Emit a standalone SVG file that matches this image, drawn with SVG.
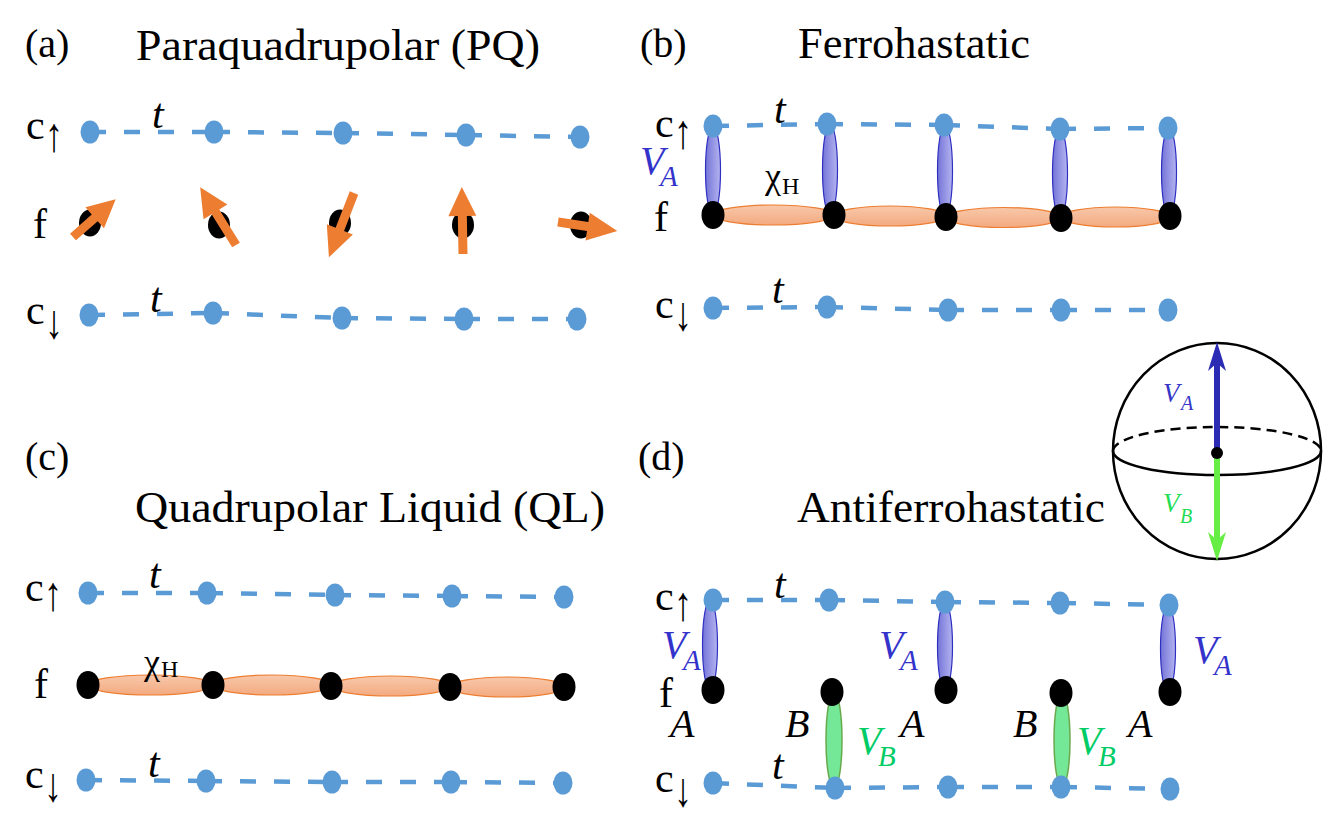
<svg xmlns="http://www.w3.org/2000/svg" xmlns:xlink="http://www.w3.org/1999/xlink" width="1336" height="817" viewBox="0 0 1336 817">
<defs>
<style>
text{font-family:"Liberation Serif","Times New Roman",serif;fill:#000}
.title{font-size:45px}
.plab{font-size:40px}
.lab{font-size:42px}
.arr{font-size:48px;fill:#000}
.t{font-size:42px;font-style:italic}
.chi{font-size:36px}
.chisub{font-size:24px}
.V{font-size:40px;font-style:italic;fill:#3333CC}
.Vs{font-size:29px;font-style:italic;fill:#3333CC}
.G{font-size:40px;font-style:italic;fill:#00CC66}
.Gs{font-size:29px;font-style:italic;fill:#00CC66}
.AB{font-size:40px;font-style:italic}
.hop{stroke:#5B9BD5;stroke-width:4.5;stroke-dasharray:16 18;fill:none}
.cdot{fill:#5B9BD5}
.fdot{fill:#000}
.ob{fill:url(#og);stroke:#ED7D31;stroke-width:1.2}
.bb{fill:url(#bg);stroke:#2F2FC0;stroke-width:1.2}
.gb{fill:#74E896;stroke:#6AA84F;stroke-width:1.5}
.spin{fill:#ED7D31}
</style>
<linearGradient id="og" x1="0" y1="0" x2="0" y2="1"><stop offset="0" stop-color="#F8C8AA"/><stop offset="1" stop-color="#F3AA80"/></linearGradient>
<linearGradient id="bg" x1="0" y1="0" x2="1" y2="0"><stop offset="0" stop-color="#7474D8"/><stop offset="1" stop-color="#B4B4F0"/></linearGradient>
<ellipse id="cd" cx="0" cy="0" rx="9.5" ry="11.5" class="cdot"/>
<ellipse id="fd" cx="0" cy="0" rx="11.5" ry="14" class="fdot"/>
</defs>
<rect width="1336" height="817" fill="#fff"/>

<!-- connectors: hopping lines -->
<g id="connectors">
<!-- (a) -->
<polyline class="hop" points="90,132 214,132"/><polyline class="hop" points="214,132 343,133"/><polyline class="hop" points="343,133 466,135"/><polyline class="hop" points="466,135 580,137"/>
<polyline class="hop" points="89,315 213,313"/><polyline class="hop" points="213,313 342,318"/><polyline class="hop" points="342,318 464,319"/><polyline class="hop" points="464,319 577,319"/>
<!-- (b) -->
<polyline class="hop" points="713,126 827,124"/><polyline class="hop" points="827,124 944,125"/><polyline class="hop" points="944,125 1060,129"/><polyline class="hop" points="1060,129 1168,128"/>
<polyline class="hop" points="713,308 827,307"/><polyline class="hop" points="827,307 948,310"/><polyline class="hop" points="948,310 1061,310"/><polyline class="hop" points="1061,310 1168,310"/>
<!-- (c) -->
<polyline class="hop" points="88,593 207,593"/><polyline class="hop" points="207,593 335,595"/><polyline class="hop" points="335,595 452,596"/><polyline class="hop" points="452,596 564,597"/>
<polyline class="hop" points="86,780 206,781"/><polyline class="hop" points="206,781 332,782"/><polyline class="hop" points="332,782 451,782"/><polyline class="hop" points="451,782 563,783"/>
<!-- (d) -->
<polyline class="hop" points="713,600 829,600"/><polyline class="hop" points="829,600 945,602"/><polyline class="hop" points="945,602 1060,603"/><polyline class="hop" points="1060,603 1169,605"/>
<polyline class="hop" points="713,783 835,788"/><polyline class="hop" points="835,788 948,787"/><polyline class="hop" points="948,787 1061,787"/><polyline class="hop" points="1061,787 1170,789"/>
</g>

<!-- bonds -->
<g id="bonds">
<!-- (b) hybridization -->
<ellipse class="bb" cx="713" cy="170.5" rx="7.5" ry="44.5"/>
<ellipse class="bb" cx="830" cy="169.5" rx="7.5" ry="45.5"/>
<ellipse class="bb" cx="945" cy="171" rx="7.5" ry="46"/>
<ellipse class="bb" cx="1060" cy="173.5" rx="7.5" ry="44.5"/>
<ellipse class="bb" cx="1169" cy="172" rx="7.5" ry="44"/>
<ellipse class="ob" cx="773.5" cy="215" rx="60" ry="10"/>
<ellipse class="ob" cx="890" cy="216" rx="56" ry="10"/>
<ellipse class="ob" cx="1003.5" cy="217.5" rx="57" ry="10"/>
<ellipse class="ob" cx="1115.5" cy="217" rx="54" ry="10"/>
<!-- (c) -->
<ellipse class="ob" cx="150.5" cy="685" rx="62" ry="10"/>
<ellipse class="ob" cx="272" cy="685" rx="59" ry="10"/>
<ellipse class="ob" cx="390.5" cy="686" rx="59" ry="10"/>
<ellipse class="ob" cx="507" cy="687" rx="57" ry="10"/>
<!-- (d) -->
<ellipse class="bb" cx="710" cy="645" rx="7.5" ry="45"/>
<ellipse class="bb" cx="945" cy="646" rx="7.5" ry="44"/>
<ellipse class="bb" cx="1168" cy="648.5" rx="7.5" ry="43.5"/>
<ellipse class="gb" cx="834" cy="740" rx="8" ry="48"/>
<ellipse class="gb" cx="1062" cy="740" rx="8" ry="47"/>
</g>

<!-- nodes panel (a) -->
<g id="a-nodes">
<g id="a-cu1"><use href="#cd" x="90" y="132"/></g><g id="a-cu2"><use href="#cd" x="214" y="132"/></g><g id="a-cu3"><use href="#cd" x="343" y="133"/></g><g id="a-cu4"><use href="#cd" x="466" y="135"/></g><g id="a-cu5"><use href="#cd" x="580" y="137"/></g>
<g id="a-f1"><ellipse cx="90" cy="223" rx="11" ry="13.5" class="fdot"/></g>
<g id="a-f2"><ellipse cx="219" cy="225" rx="11" ry="13.5" class="fdot"/></g>
<g id="a-f3"><ellipse cx="340" cy="223" rx="11" ry="13.5" class="fdot"/></g>
<g id="a-f4"><ellipse cx="463" cy="225" rx="11" ry="13.5" class="fdot"/></g>
<g id="a-f5"><ellipse cx="581" cy="225" rx="11" ry="13.5" class="fdot"/></g>
<g id="a-cd1"><use href="#cd" x="89" y="315"/></g><g id="a-cd2"><use href="#cd" x="213" y="313"/></g><g id="a-cd3"><use href="#cd" x="342" y="318"/></g><g id="a-cd4"><use href="#cd" x="464" y="319"/></g><g id="a-cd5"><use href="#cd" x="577" y="319"/></g>
<!-- spins -->
<polygon class="spin" transform="translate(73,237) rotate(-41.5)" points="0,-4.5 29,-4.5 29,-14 57,0 29,14 29,4.5 0,4.5"/>
<polygon class="spin" transform="translate(236,245) rotate(-121.8)" points="0,-4.5 39,-4.5 39,-14 68,0 39,14 39,4.5 0,4.5"/>
<polygon class="spin" transform="translate(354,193) rotate(111.3)" points="0,-4.5 39,-4.5 39,-14 69,0 39,14 39,4.5 0,4.5"/>
<polygon class="spin" transform="translate(463,254) rotate(-91)" points="0,-4.5 38,-4.5 38,-14 67,0 38,14 38,4.5 0,4.5"/>
<polygon class="spin" transform="translate(558,222) rotate(8.7)" points="0,-4.5 30,-4.5 30,-14 60,0 30,14 30,4.5 0,4.5"/>
</g>

<!-- nodes panel (b) -->
<g id="b-nodes">
<g id="b-cu1"><use href="#cd" x="713" y="126"/></g><g id="b-cu2"><use href="#cd" x="827" y="124"/></g><g id="b-cu3"><use href="#cd" x="944" y="125"/></g><g id="b-cu4"><use href="#cd" x="1060" y="129"/></g><g id="b-cu5"><use href="#cd" x="1168" y="128"/></g>
<g id="b-f1"><use href="#fd" x="713" y="215"/></g><g id="b-f2"><use href="#fd" x="834" y="215"/></g><g id="b-f3"><use href="#fd" x="946" y="217"/></g><g id="b-f4"><use href="#fd" x="1061" y="218"/></g><g id="b-f5"><use href="#fd" x="1170" y="216"/></g>
<g id="b-cd1"><use href="#cd" x="713" y="308"/></g><g id="b-cd2"><use href="#cd" x="827" y="307"/></g><g id="b-cd3"><use href="#cd" x="948" y="310"/></g><g id="b-cd4"><use href="#cd" x="1061" y="310"/></g><g id="b-cd5"><use href="#cd" x="1168" y="310"/></g>
</g>

<!-- nodes panel (c) -->
<g id="c-nodes">
<g id="c-cu1"><use href="#cd" x="88" y="593"/></g><g id="c-cu2"><use href="#cd" x="207" y="593"/></g><g id="c-cu3"><use href="#cd" x="335" y="595"/></g><g id="c-cu4"><use href="#cd" x="452" y="596"/></g><g id="c-cu5"><use href="#cd" x="564" y="597"/></g>
<g id="c-f1"><use href="#fd" x="88" y="685"/></g><g id="c-f2"><use href="#fd" x="213" y="685"/></g><g id="c-f3"><use href="#fd" x="331" y="686"/></g><g id="c-f4"><use href="#fd" x="450" y="687"/></g><g id="c-f5"><use href="#fd" x="564" y="687"/></g>
<g id="c-cd1"><use href="#cd" x="86" y="780"/></g><g id="c-cd2"><use href="#cd" x="206" y="781"/></g><g id="c-cd3"><use href="#cd" x="332" y="782"/></g><g id="c-cd4"><use href="#cd" x="451" y="782"/></g><g id="c-cd5"><use href="#cd" x="563" y="783"/></g>
</g>

<!-- nodes panel (d) -->
<g id="d-nodes">
<g id="d-cu1"><use href="#cd" x="713" y="600"/></g><g id="d-cu2"><use href="#cd" x="829" y="600"/></g><g id="d-cu3"><use href="#cd" x="945" y="602"/></g><g id="d-cu4"><use href="#cd" x="1060" y="603"/></g><g id="d-cu5"><use href="#cd" x="1169" y="605"/></g>
<g id="d-f1"><use href="#fd" x="713" y="690"/></g><g id="d-f2"><use href="#fd" x="832" y="692"/></g><g id="d-f3"><use href="#fd" x="946" y="690"/></g><g id="d-f4"><use href="#fd" x="1061" y="693"/></g><g id="d-f5"><use href="#fd" x="1170" y="692"/></g>
<g id="d-cd1"><use href="#cd" x="713" y="783"/></g><g id="d-cd2"><use href="#cd" x="835" y="788"/></g><g id="d-cd3"><use href="#cd" x="948" y="787"/></g><g id="d-cd4"><use href="#cd" x="1061" y="787"/></g><g id="d-cd5"><use href="#cd" x="1170" y="789"/></g>
</g>

<!-- Bloch sphere -->
<g id="sphere">
<ellipse cx="1217" cy="451" rx="104" ry="108" fill="none" stroke="#000" stroke-width="2.5"/>
<path d="M1113,451 A104,24 0 0 1 1321,451" fill="none" stroke="#000" stroke-width="2.5" stroke-dasharray="10 6"/>
<path d="M1113,451 A104,24 0 0 0 1321,451" fill="none" stroke="#000" stroke-width="2.5"/>
<line x1="1217" y1="452" x2="1217" y2="362" stroke="#2B2BB4" stroke-width="6"/>
<polygon points="1217,342 1226,371 1217,363 1208,371" fill="#2B2BB4"/>
<line x1="1217" y1="452" x2="1217" y2="541" stroke="#66EE44" stroke-width="6"/>
<polygon points="1217,561 1226,532 1217,540 1208,532" fill="#66EE44"/>
<circle cx="1217" cy="453" r="6" fill="#000"/>
<text x="1163" y="402" style="font-size:27px;font-style:italic;fill:#3535C8">V</text>
<text x="1181" y="410" style="font-size:20px;font-style:italic;fill:#3535C8">A</text>
<text x="1163" y="512" style="font-size:27px;font-style:italic;fill:#22DD55">V</text>
<text x="1180" y="523" style="font-size:20px;font-style:italic;fill:#22DD55">B</text>
</g>

<!-- labels -->
<g id="labels">
<text class="plab" x="25" y="57">(a)</text>
<text class="title" x="136" y="60" textLength="404" lengthAdjust="spacingAndGlyphs">Paraquadrupolar (PQ)</text>
<text class="plab" x="640" y="57">(b)</text>
<text class="title" x="798" y="58" textLength="232" lengthAdjust="spacingAndGlyphs">Ferrohastatic</text>
<text class="plab" x="25" y="470">(c)</text>
<text class="title" x="135" y="522" textLength="470" lengthAdjust="spacingAndGlyphs">Quadrupolar Liquid (QL)</text>
<text class="plab" x="638" y="470">(d)</text>
<text class="title" x="797" y="522" textLength="308" lengthAdjust="spacingAndGlyphs">Antiferrohastatic</text>

<!-- (a) -->
<text class="lab" x="26" y="139">c</text><text class="arr" transform="translate(45,151) scale(0.75,1)">↑</text>
<text class="lab" x="33" y="238">f</text>
<text class="lab" x="26" y="324">c</text><text class="arr" transform="translate(45,338) scale(0.75,1)">↓</text>
<text class="t" x="152" y="128">t</text>
<text class="t" x="150" y="312">t</text>
<!-- (b) -->
<text class="lab" x="655" y="137">c</text><text class="arr" transform="translate(674,148) scale(0.75,1)">↑</text>
<text class="lab" x="654" y="231">f</text>
<text class="lab" x="655" y="318">c</text><text class="arr" transform="translate(674,330) scale(0.75,1)">↓</text>
<text class="t" x="774" y="123">t</text>
<text class="t" x="772" y="303">t</text>
<text class="V" x="640" y="174">V</text><text class="Vs" x="660" y="186">A</text>
<text class="chi" x="765" y="188">χ</text><text class="chisub" x="782" y="194">H</text>
<!-- (c) -->
<text class="lab" x="25" y="601">c</text><text class="arr" transform="translate(44,610) scale(0.75,1)">↑</text>
<text class="lab" x="34" y="698">f</text>
<text class="lab" x="25" y="788">c</text><text class="arr" transform="translate(44,801) scale(0.75,1)">↓</text>
<text class="t" x="149" y="588">t</text>
<text class="t" x="148" y="777">t</text>
<text class="chi" x="144" y="674">χ</text><text class="chisub" x="161" y="677">H</text>
<!-- (d) -->
<text class="lab" x="655" y="610">c</text><text class="arr" transform="translate(674,620) scale(0.75,1)">↑</text>
<text class="lab" x="659" y="707">f</text>
<text class="lab" x="655" y="792">c</text><text class="arr" transform="translate(674,806) scale(0.75,1)">↓</text>
<text class="t" x="774" y="598">t</text>
<text class="t" x="772" y="779">t</text>
<text class="V" x="662" y="658">V</text><text class="Vs" x="683" y="670">A</text>
<text class="V" x="879" y="658">V</text><text class="Vs" x="900" y="670">A</text>
<text class="V" x="1193" y="663">V</text><text class="Vs" x="1214" y="675">A</text>
<text class="AB" x="670" y="737">A</text>
<text class="AB" x="785" y="737">B</text>
<text class="G" x="857" y="754">V</text><text class="Gs" x="878" y="766">B</text>
<text class="AB" x="900" y="737">A</text>
<text class="AB" x="1013" y="737">B</text>
<text class="G" x="1077" y="754">V</text><text class="Gs" x="1098" y="766">B</text>
<text class="AB" x="1128" y="737">A</text>
</g>
</svg>
